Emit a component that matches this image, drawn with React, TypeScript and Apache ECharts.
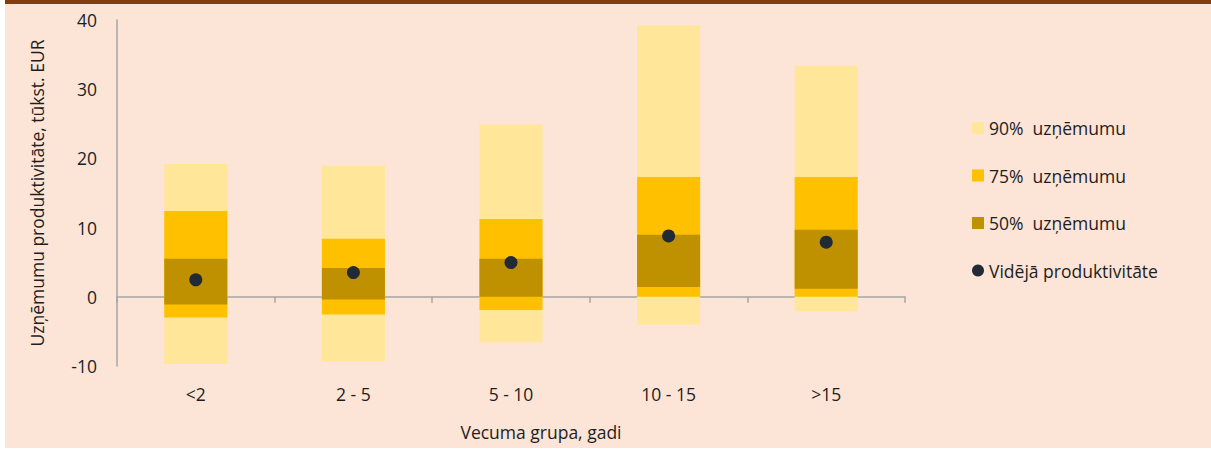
import React, { useEffect, useRef } from "react";
import * as echarts from "echarts";

const categories = ["<2", "2 - 5", "5 - 10", "10 - 15", ">15"];
const p90Low = [-9.7, -9.3, -6.55, -4.0, -2.1];
const p90High = [19.2, 18.95, 24.9, 39.2, 33.4];
const p75Low = [-3.0, -2.55, -1.9, 0.0, 0.0];
const p75High = [12.4, 8.4, 11.25, 17.3, 17.3];
const p50Low = [-1.1, -0.4, 0.0, 1.4, 1.15];
const p50High = [5.5, 4.15, 5.5, 8.95, 9.7];
const meanValues = [2.45, 3.5, 4.95, 8.8, 7.9];

const seriesNames = ["90%  uzņēmumu", "75%  uzņēmumu", "50%  uzņēmumu", "Vidējā produktivitāte"];
const colors = ["#FFE699", "#FFC000", "#BF9000", "#222A35"];

const FONT = "'Open Sans', 'Noto Sans', sans-serif";
const FS = 17.5;
const TEXT_COLOR = "#1E1E1E";

function rangeSeries(name: string, color: string, low: number[], high: number[]) {
  return {
    type: "custom",
    name,
    itemStyle: { color },
    encode: { x: 0, y: [1, 2] },
    data: categories.map((_, i) => [i, low[i], high[i]]),
    renderItem: (params: any, api: any) => {
      const idx = api.value(0);
      const lo = api.coord([idx, api.value(1)]);
      const hi = api.coord([idx, api.value(2)]);
      const bw = api.size([1, 0])[0] * 0.4;
      return {
        type: "rect",
        shape: { x: lo[0] - bw / 2, y: hi[1], width: bw, height: lo[1] - hi[1] },
        style: { fill: color },
      };
    },
  };
}

export default function App() {
  const ref = useRef<HTMLDivElement>(null);
  useEffect(() => {
    if (!ref.current) return;
    const chart = echarts.init(ref.current, null, { renderer: "svg" });
    chart.setOption({
      animation: false,
      backgroundColor: "transparent",
      textStyle: { fontFamily: FONT },
      graphic: [
        { type: "rect", z: -10, silent: true, shape: { x: 5, y: 0, width: 1206, height: 448 }, style: { fill: "#FCE4D6" } },
        { type: "rect", z: -9, silent: true, shape: { x: 5, y: 0, width: 1206, height: 4 }, style: { fill: "#843C0C" } },
        {
          type: "text",
          x: 541,
          y: 432,
          style: {
            text: "Vecuma grupa, gadi",
            fontSize: FS,
            fontFamily: FONT,
            fill: TEXT_COLOR,
            align: "center",
            verticalAlign: "middle",
          },
        },
      ],
      grid: { left: 117, right: 306, top: 20, bottom: 84, containLabel: false, outerBoundsMode: "none" },
      legend: {
        orient: "vertical",
        left: 972,
        top: 119,
        padding: 0,
        itemWidth: 12,
        itemHeight: 12,
        itemGap: 29.5,
        textStyle: { fontSize: FS, color: TEXT_COLOR, fontFamily: FONT },
        data: [
          { name: seriesNames[0], icon: "rect" },
          { name: seriesNames[1], icon: "rect" },
          { name: seriesNames[2], icon: "rect" },
          { name: seriesNames[3], icon: "circle" },
        ],
      },
      xAxis: {
        type: "category",
        data: categories,
        boundaryGap: true,
        axisLine: { onZero: true, lineStyle: { color: "#A6A6A6", width: 1.5 } },
        axisTick: { show: true, alignWithLabel: false, length: 6, lineStyle: { color: "#A6A6A6", width: 1.5 } },
        axisLabel: { margin: 19, fontSize: FS, color: TEXT_COLOR, fontFamily: FONT },
        splitLine: { show: false },
      },
      yAxis: {
        type: "value",
        min: -10,
        max: 40,
        interval: 10,
        name: "Uzņēmumu produktivitāte, tūkst. EUR",
        nameLocation: "middle",
        nameGap: 71,
        nameTextStyle: { fontSize: FS, color: TEXT_COLOR, fontFamily: FONT },
        axisLine: { show: true, lineStyle: { color: "#A6A6A6", width: 1.5 } },
        axisTick: { show: false },
        axisLabel: { margin: 20, fontSize: FS, color: TEXT_COLOR, fontFamily: FONT },
        splitLine: { show: false },
      },
      series: [
        rangeSeries(seriesNames[0], colors[0], p90Low, p90High),
        rangeSeries(seriesNames[1], colors[1], p75Low, p75High),
        rangeSeries(seriesNames[2], colors[2], p50Low, p50High),
        {
          type: "scatter",
          name: seriesNames[3],
          data: meanValues,
          symbol: "circle",
          symbolSize: 13,
          itemStyle: { color: colors[3], opacity: 1 },
          z: 5,
        },
      ],
    });
    return () => chart.dispose();
  }, []);
  return (
    <div style={{ position: "fixed", left: 0, top: 0, width: 1211, height: 450, background: "#FFFFFF" }}>
      <div ref={ref} style={{ width: 1211, height: 450 }} />
    </div>
  );
}
